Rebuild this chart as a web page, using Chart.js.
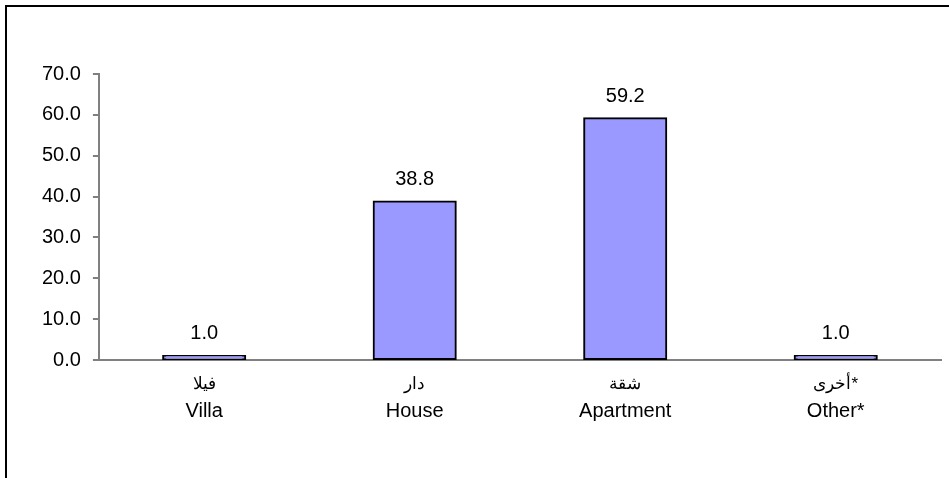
<!DOCTYPE html>
<html>
<head>
<meta charset="utf-8">
<script src="https://cdn.jsdelivr.net/npm/chart.js@4"></script>
<style>
  html, body { margin: 0; padding: 0; background: #fff; }
  #wrap { position: relative; width: 949px; height: 478px; overflow: hidden; }
  #frame { position: absolute; left: 5px; top: 5px; width: 960px; height: 500px;
           border-left: 2px solid #000; border-top: 2px solid #000; }
  canvas { position: absolute; left: 0; top: 0; }
</style>
</head>
<body>
<div id="wrap">
  <div id="frame"></div>
  <canvas id="c" width="949" height="478"></canvas>
</div>
<script>
  // kategori: baris Arab di atas, Inggris di bawah
  const labelsArabic = ["فيلا", "دار", "شقة", "أخرى*"];
  const labelsEnglish = ["Villa", "House", "Apartment", "Other*"];
  const values = [1.0, 38.8, 59.2, 1.0];
  const yTicks = [0, 10, 20, 30, 40, 50, 60, 70];

  const FONT = "Arial, 'Liberation Sans', sans-serif";

  // label nilai di atas batang + label kategori dua baris
  const textPlugin = {
    id: "textPlugin",
    afterDatasetsDraw(chart) {
      const ctx = chart.ctx;
      const meta = chart.getDatasetMeta(0);
      const xs = chart.scales.x;
      const ys = chart.scales.y;
      const bottom = chart.chartArea.bottom;
      ctx.save();
      ctx.fillStyle = "#000";
      ctx.textAlign = "center";
      ctx.textBaseline = "middle";
      meta.data.forEach((bar, i) => {
        ctx.font = "20px " + FONT;
        ctx.fillText(values[i].toFixed(1), bar.x, ys.getPixelForValue(values[i]) - 22);
        const cx = xs.getPixelForValue(i);
        ctx.font = "17px " + FONT;
        ctx.fillText(labelsArabic[i], cx, bottom + 24);
        ctx.font = "20px " + FONT;
        ctx.fillText(labelsEnglish[i], cx, bottom + 51);
      });
      ctx.restore();
    }
  };

  new Chart(document.getElementById("c"), {
    type: "bar",
    data: {
      labels: labelsEnglish,
      datasets: [{
        data: values,
        backgroundColor: "#9999FF",
        borderColor: "#000",
        borderWidth: 2,
        borderSkipped: false,
        inflateAmount: 1,
        barPercentage: 0.39,
        categoryPercentage: 1.0
      }]
    },
    options: {
      responsive: false,
      animation: false,
      devicePixelRatio: 1,
      layout: { padding: { left: 30, top: 74, right: 8, bottom: 110 } },
      plugins: { legend: { display: false }, tooltip: { enabled: false } },
      scales: {
        x: {
          ticks: { display: false },
          grid: { display: false },
          border: { color: "#808080", width: 2 }
        },
        y: {
          min: 0,
          max: 70,
          afterBuildTicks(scale) { scale.ticks = yTicks.map(v => ({ value: v })); },
          ticks: {
            color: "#000",
            font: { size: 20, family: FONT },
            padding: 12,
            callback: v => Number(v).toFixed(1)
          },
          grid: { drawOnChartArea: false, tickLength: 6, color: "#808080", lineWidth: 2 },
          border: { color: "#808080", width: 2 }
        }
      }
    },
    plugins: [textPlugin]
  });
</script>
</body>
</html>
